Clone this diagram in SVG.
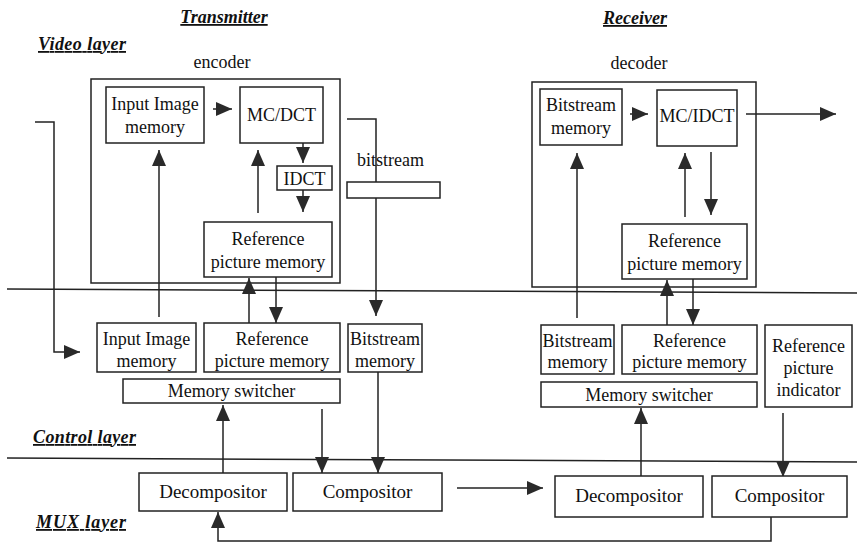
<svg xmlns="http://www.w3.org/2000/svg" width="857" height="543" viewBox="0 0 857 543" font-family="'Liberation Serif', 'Times New Roman', 'DejaVu Serif', serif" font-size="18">
<defs>
<marker id="ah" viewBox="0 0 16 14" refX="16" refY="7" markerWidth="16" markerHeight="14" markerUnits="userSpaceOnUse" orient="auto">
<path d="M0,0 L16,7 L0,14 z" fill="#2a2a2a"/>
</marker>
<style>
text{fill:#111}
.t{text-anchor:middle}
.h{font-weight:bold;font-style:italic;text-decoration:underline}
rect{fill:#fff;stroke:#222;stroke-width:1.5}
.big{fill:none}
.c line,.c path{stroke:#222;stroke-width:1.5;fill:none}
.a{marker-end:url(#ah)}
.m{font-size:19px}
</style>
</defs>
<rect width="857" height="543" style="fill:#fff;stroke:none"/>
<g id="titles">
<text class="h t" x="224" y="23">Transmitter</text>
<text class="h t" x="635" y="24">Receiver</text>
<text class="h" x="38" y="50" textLength="88" lengthAdjust="spacing">Video layer</text>
<text class="h" x="33" y="443" textLength="103" lengthAdjust="spacing">Control layer</text>
<text class="h" x="36" y="528" textLength="90" lengthAdjust="spacing">MUX layer</text>
</g>
<g id="layers" class="c">
<line x1="7" y1="289" x2="857" y2="293"/>
<line x1="7" y1="458" x2="857" y2="462"/>
</g>
<g id="encoder">
<rect class="big" x="91" y="79" width="249" height="204"/>
<text class="t" x="222" y="68">encoder</text>
</g>
<g id="decoder">
<rect class="big" x="532" y="82" width="224" height="205"/>
<text class="t" x="639" y="69">decoder</text>
</g>
<g id="connectors" class="c">
<line class="a" x1="213" y1="109" x2="232" y2="109"/>
<line class="a" x1="303" y1="143" x2="303" y2="163"/>
<line class="a" x1="303" y1="190" x2="303" y2="212"/>
<line class="a" x1="159" y1="317" x2="159" y2="150"/>
<line class="a" x1="258" y1="213" x2="258" y2="150"/>
<path class="a" d="M347,119 H376 V316"/>
<line class="a" x1="249" y1="323" x2="249" y2="278"/>
<line class="a" x1="276" y1="277" x2="276" y2="323"/>
<path class="a" d="M35,122 H54 V352 H80"/>
<line class="a" x1="223" y1="473" x2="223" y2="405"/>
<line class="a" x1="322" y1="409" x2="322" y2="473"/>
<line class="a" x1="378" y1="372" x2="378" y2="473"/>
<path class="a" d="M771,517 V541 H218 V512"/>
<line class="a" x1="457" y1="488" x2="543" y2="488"/>
<line class="a" x1="630" y1="114" x2="648" y2="114"/>
<line class="a" x1="746" y1="114" x2="836" y2="114"/>
<line class="a" x1="577" y1="318" x2="577" y2="153"/>
<line class="a" x1="685" y1="217" x2="685" y2="153"/>
<line class="a" x1="711" y1="152" x2="711" y2="215"/>
<line class="a" x1="667" y1="325" x2="667" y2="280"/>
<line class="a" x1="693" y1="279" x2="693" y2="325"/>
<line class="a" x1="641" y1="476" x2="641" y2="408"/>
<line class="a" x1="783" y1="413" x2="783" y2="477"/>
</g>
<g id="enc-input">
<rect x="106" y="87" width="98" height="56"/>
<text class="t" x="155" y="110">Input Image</text>
<text class="t" x="155" y="133">memory</text>
</g>
<g id="enc-mcdct">
<rect x="240" y="87" width="83" height="56"/>
<text class="t" x="281.5" y="121">MC/DCT</text>
</g>
<g id="enc-idct">
<rect x="277" y="166" width="55" height="24"/>
<text class="t" x="304.5" y="185">IDCT</text>
</g>
<g id="enc-ref">
<rect x="204" y="222" width="128" height="55"/>
<text class="t" x="268" y="245">Reference</text>
<text class="t" x="268" y="268">picture memory</text>
</g>
<g id="bitstream">
<rect x="347" y="182" width="93" height="16"/>
<text x="357" y="166">bitstream</text>
</g>
<g id="tx-input">
<rect x="97" y="323" width="99" height="49"/>
<text class="t" x="146.5" y="345">Input Image</text>
<text class="t" x="146.5" y="367">memory</text>
</g>
<g id="tx-ref">
<rect x="204" y="323" width="136" height="49"/>
<text class="t" x="272" y="345">Reference</text>
<text class="t" x="272" y="367">picture memory</text>
</g>
<g id="tx-bits">
<rect x="348" y="324" width="74" height="48"/>
<text class="t" x="385" y="345">Bitstream</text>
<text class="t" x="385" y="367">memory</text>
</g>
<g id="tx-switch">
<rect x="123" y="379" width="217" height="24"/>
<text class="t" x="231.5" y="397">Memory switcher</text>
</g>
<g id="tx-decomp">
<rect x="139" y="473" width="148" height="38"/>
<text class="t m" x="213" y="498">Decompositor</text>
</g>
<g id="tx-comp">
<rect x="293" y="473" width="149" height="38"/>
<text class="t m" x="367.5" y="498">Compositor</text>
</g>
<g id="dec-bits">
<rect x="540" y="89" width="82" height="56"/>
<text class="t" x="581" y="111">Bitstream</text>
<text class="t" x="581" y="134">memory</text>
</g>
<g id="dec-mcidct">
<rect x="657" y="90" width="80" height="56"/>
<text class="t" x="697" y="122">MC/IDCT</text>
</g>
<g id="dec-ref">
<rect x="622" y="224" width="125" height="55"/>
<text class="t" x="684.5" y="247">Reference</text>
<text class="t" x="684.5" y="270">picture memory</text>
</g>
<g id="rx-bits">
<rect x="541" y="325" width="73" height="49"/>
<text class="t" x="577.5" y="347">Bitstream</text>
<text class="t" x="577.5" y="368">memory</text>
</g>
<g id="rx-ref">
<rect x="622" y="325" width="135" height="49"/>
<text class="t" x="689.5" y="347">Reference</text>
<text class="t" x="689.5" y="368">picture memory</text>
</g>
<g id="rx-switch">
<rect x="541" y="382" width="216" height="25"/>
<text class="t" x="649" y="401">Memory switcher</text>
</g>
<g id="rx-indicator">
<rect x="765" y="325" width="87" height="82"/>
<text class="t" x="808.5" y="352">Reference</text>
<text class="t" x="808.5" y="374">picture</text>
<text class="t" x="808.5" y="396">indicator</text>
</g>
<g id="rx-decomp">
<rect x="555" y="476" width="148" height="41"/>
<text class="t m" x="629" y="502">Decompositor</text>
</g>
<g id="rx-comp">
<rect x="712" y="476" width="135" height="41"/>
<text class="t m" x="779.5" y="502">Compositor</text>
</g>
</svg>
